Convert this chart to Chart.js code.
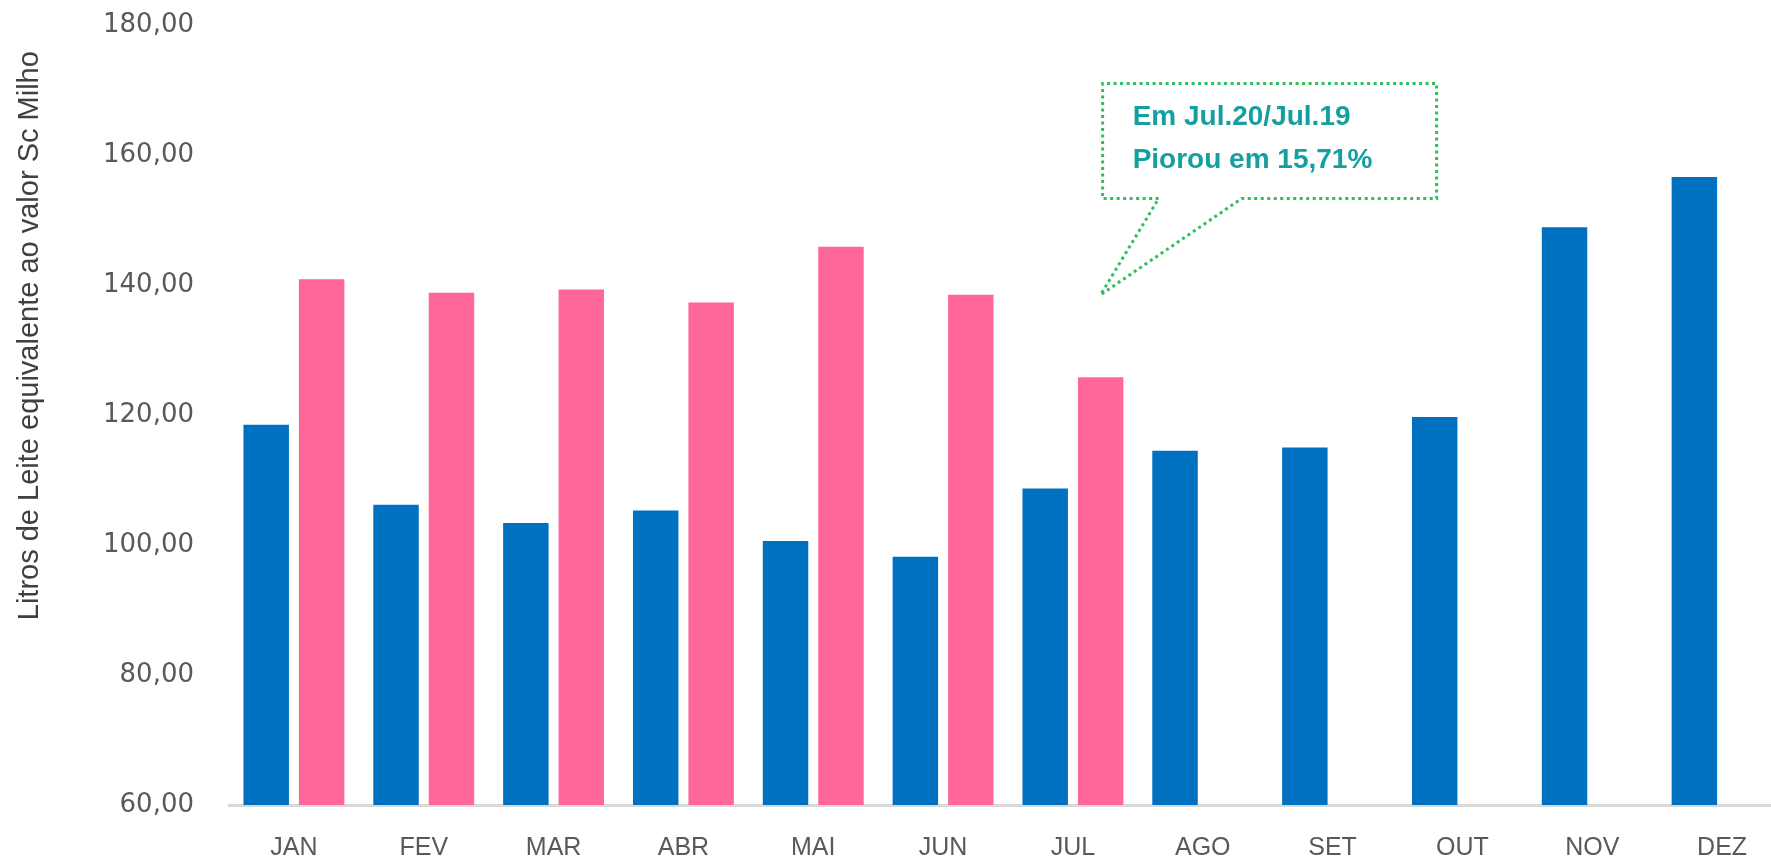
<!DOCTYPE html>
<html>
<head>
<meta charset="utf-8">
<script src="https://cdn.jsdelivr.net/npm/chart.js@4"></script>
<style>
  html, body { margin: 0; padding: 0; background: #fff; overflow: hidden; }
  #wrap { width: 1787px; height: 861px; }
</style>
</head>
<body>
<div id="wrap"><canvas id="chart" width="1787" height="861"></canvas></div>
<script>
// months on the x axis
const months = ["JAN", "FEV", "MAR", "ABR", "MAI", "JUN", "JUL", "AGO", "SET", "OUT", "NOV", "DEZ"];
// litros de leite equivalentes ao valor da saca de milho
const values2019 = [118.5, 106.2, 103.4, 105.3, 100.6, 98.2, 108.7, 114.5, 115.0, 119.7, 148.9, 156.6];
const values2020 = [140.9, 138.8, 139.3, 137.3, 145.9, 138.5, 125.8, null, null, null, null, null];
// y axis range
const yMin = 60, yMax = 180, yStep = 20;
const yTitle = "Litros de Leite equivalente ao valor Sc Milho";

// callout text and where it points to
const calloutLines = ["Em Jul.20/Jul.19", "Piorou em 15,71%"];
const calloutMonth = 6;
const calloutTipValue = 138.5;

const fmt = v => v.toFixed(2).replace(".", ",");

// y axis title sits a bit above the middle of the axis, so it is drawn by hand
const yTitlePlugin = {
    id: "yTitle",
    afterDraw(chart) {
        const c = chart.ctx;
        c.save();
        c.translate(30, chart.scales.y.getPixelForValue(132.2));
        c.rotate(-Math.PI / 2);
        c.fillStyle = "#404040";
        c.font = "29px 'Liberation Sans'";
        c.textAlign = "center";
        c.textBaseline = "middle";
        c.fillText(yTitle, 0, 0);
        c.restore();
    }
};

// draws the dotted speech bubble, anchored on the JUL 2020 bar
const calloutPlugin = {
    id: "callout",
    afterDraw(chart) {
        const ys = chart.scales.y;
        const bar = chart.getDatasetMeta(1).data[calloutMonth];
        if (!bar) return;
        const tipX = bar.x, tipY = ys.getPixelForValue(calloutTipValue);
        const left = tipX + 2, right = tipX + 336;
        const top = ys.getPixelForValue(171), bottom = ys.getPixelForValue(153.3);
        const c = chart.ctx;
        c.save();
        c.strokeStyle = "#2dbf5e";
        c.lineWidth = 3;
        c.setLineDash([3, 3.5]);
        c.beginPath();
        c.moveTo(tipX + 58, bottom);
        c.lineTo(left, bottom);
        c.lineTo(left, top);
        c.lineTo(right, top);
        c.lineTo(right, bottom);
        c.lineTo(tipX + 141, bottom);
        c.lineTo(tipX, tipY);
        c.closePath();
        c.stroke();

        c.setLineDash([]);
        c.fillStyle = "#159f9f";
        c.font = "bold 28px 'Liberation Sans'";
        c.textAlign = "left";
        c.textBaseline = "middle";
        c.fillText(calloutLines[0], left + 30, top + 34);
        c.fillText(calloutLines[1], left + 30, top + 77);
        c.restore();
    }
};

const ctx = document.getElementById("chart").getContext("2d");
new Chart(ctx, {
    type: "bar",
    data: {
        labels: months,
        datasets: [
            {
                label: "2019",
                data: values2019,
                backgroundColor: "#0070c0",
                categoryPercentage: 0.854,
                barPercentage: 0.82
            },
            {
                label: "2020",
                data: values2020,
                backgroundColor: "#ff6699",
                categoryPercentage: 0.854,
                barPercentage: 0.82
            }
        ]
    },
    options: {
        responsive: false,
        animation: false,
        layout: { padding: { top: 25, right: 0, bottom: 0, left: 0 } },
        plugins: {
            legend: { display: false },
            tooltip: { enabled: false }
        },
        scales: {
            x: {
                grid: { display: false, drawTicks: false },
                border: { color: "#d9d9d9", width: 3 },
                ticks: {
                    color: "#595959",
                    font: { family: "'Liberation Sans'", size: 25 },
                    padding: 28,
                    maxRotation: 0
                },
                afterFit: s => { s.height = 56; }
            },
            y: {
                min: yMin,
                max: yMax,
                // invisible tick marks keep the labels away from the plot
                grid: { display: false, drawTicks: true, tickLength: 35 },
                border: { display: false },
                ticks: {
                    stepSize: yStep,
                    color: "#595959",
                    font: { family: "'DejaVu Sans'", size: 26 },
                    padding: 0,
                    callback: v => fmt(v)
                },
                afterFit: s => { s.width = 229; }
            }
        }
    },
    plugins: [yTitlePlugin, calloutPlugin]
});
</script>
</body>
</html>
